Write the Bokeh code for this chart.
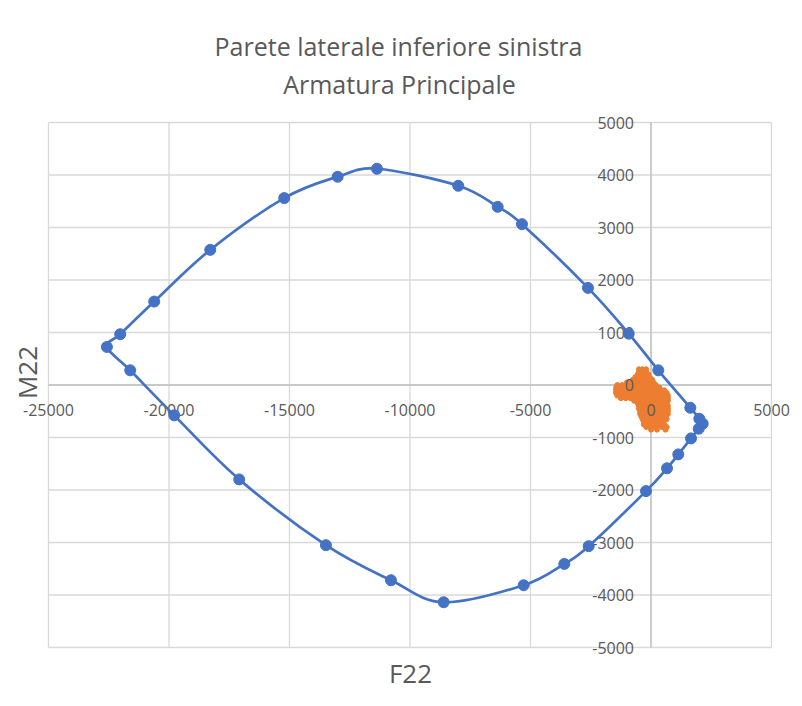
import math
from bokeh.plotting import figure
from bokeh.models import Range1d, Label
from bokeh.core.properties import value
from bokeh.embed import file_html
from bokeh.resources import INLINE

# Blue series (interaction domain), closed loop
f22 = [2145, 2005, 1631, 303, -925, -2615, -5354, -6362, -7997, -11371,
       -13002, -15218, -18289, -20613, -22024, -22576, -21609, -19783, -17086, -13488,
       -10790, -8603, -5283, -3598, -2585, -207, 664, 1133, 1660, 1979]
m22 = [-738, -643, -433, 280, 978, 1850, 3064, 3394, 3795, 4119,
       3967, 3560, 2574, 1589, 967, 725, 280, -578, -1798, -3051,
       -3719, -4138, -3814, -3408, -3070, -2021, -1586, -1322, -1017, -833]

# Orange series (design forces)
orange_f22 = [
    -500, -350, -200,
    -500, -350, -200,
    -550, -400, -250, -100,
    -650, -500, -350, -200, -50,
    -750, -550, -350, -150, 50,
    -1000, -800, -600, -400, -200, 0, 100,
    -1400, -1200, -1000, -800, -600, -400, -200, 0, 200,
    -1450, -1250, -1050, -850, -650, -450, -250, -50, 150, 350,
    -1450, -1250, -1050, -850, -650, -450, -250, -50, 150, 350, 550,
    -1450, -1250, -1050, -850, -650, -450, -250, -50, 150, 350, 550, 650,
    -1400, -1200, -1000, -800, -600, -400, -200, 0, 200, 400, 600, 700,
    -1250, -1050, -850, -650, -450, -250, -50, 150, 350, 550, 700,
    -700, -500, -300, -100, 100, 300, 500, 700,
    -550, -350, -150, 50, 250, 450, 650,
    -500, -300, -100, 100, 300, 500, 700,
    -500, -300, -100, 100, 300, 500, 700,
    -450, -250, -50, 150, 350, 550, 700,
    -450, -250, -50, 150, 350, 550, 700,
    -400, -200, 0, 200, 400, 600,
    -350, -150, 50, 250, 450, 650,
    -300, -100, 100, 300, 500,
    -300, -100, 100, 300, 550,
    -200, 0, 200, 450, 650,
    0, 250, 600,
]
orange_m22 = [
    300, 300, 300,
    250, 250, 250,
    200, 200, 200, 200,
    150, 150, 150, 150, 150,
    100, 100, 100, 100, 100,
    50, 50, 50, 50, 50, 50, 50,
    0, 0, 0, 0, 0, 0, 0, 0, 0,
    -50, -50, -50, -50, -50, -50, -50, -50, -50, -50,
    -100, -100, -100, -100, -100, -100, -100, -100, -100, -100, -100,
    -150, -150, -150, -150, -150, -150, -150, -150, -150, -150, -150, -150,
    -200, -200, -200, -200, -200, -200, -200, -200, -200, -200, -200, -200,
    -250, -250, -250, -250, -250, -250, -250, -250, -250, -250, -250,
    -300, -300, -300, -300, -300, -300, -300, -300,
    -350, -350, -350, -350, -350, -350, -350,
    -400, -400, -400, -400, -400, -400, -400,
    -450, -450, -450, -450, -450, -450, -450,
    -500, -500, -500, -500, -500, -500, -500,
    -550, -550, -550, -550, -550, -550, -550,
    -600, -600, -600, -600, -600, -600,
    -650, -650, -650, -650, -650, -650,
    -700, -700, -700, -700, -700,
    -750, -750, -750, -750, -750,
    -800, -800, -800, -800, -800,
    -850, -850, -850,
]

x_ticks = [-25000, -20000, -15000, -10000, -5000, 0, 5000]
x_tick_labels = ["-25000", "-20000", "-15000", "-10000", "-5000", "0", "5000"]
y_ticks = [-5000, -4000, -3000, -2000, -1000, 0, 1000, 2000, 3000, 4000, 5000]
y_tick_labels = ["-5000", "-4000", "-3000", "-2000", "-1000", "0", "1000", "2000", "3000", "4000", "5000"]

title_line1 = "Parete laterale inferiore sinistra"
title_line2 = "Armatura Principale"
x_title = "F22"
y_title = "M22"

FONT = "Open Sans"
TXT = "#595959"
BLUE = "#4472C4"
ORANGE = "#ED7D31"
GRID = "#d9d9d9"
AXIS = "#bfbfbf"

# canvas and plot-area placement (pixels)
W, H = 800, 700
L, R, T, B = 48, 771, 122, 647

ux = (x_ticks[-1] - x_ticks[0]) / (R - L)
uy = (y_ticks[-1] - y_ticks[0]) / (B - T)
x_range = Range1d(x_ticks[0] - L * ux, x_ticks[-1] + (W - R) * ux)
y_range = Range1d(y_ticks[0] - (H - B) * uy, y_ticks[-1] + T * uy)

p = figure(width=W, height=H, x_range=x_range, y_range=y_range,
           x_axis_type=None, y_axis_type=None, output_backend="svg", toolbar_location=None,
           min_border=0, min_border_left=0, min_border_right=0, min_border_top=0, min_border_bottom=0)
p.outline_line_color = None
p.background_fill_color = "white"
p.border_fill_color = "white"
p.xgrid.visible = False
p.ygrid.visible = False

# gridlines
nx, ny = len(x_ticks), len(y_ticks)
p.segment(x0=x_ticks, y0=[y_ticks[0]] * nx, x1=x_ticks, y1=[y_ticks[-1]] * nx,
          line_color=GRID, line_width=1.3)
p.segment(x0=[x_ticks[0]] * ny, y0=y_ticks, x1=[x_ticks[-1]] * ny, y1=y_ticks,
          line_color=GRID, line_width=1.3)
# axes crossing at zero
p.segment(x0=[0], y0=[y_ticks[0]], x1=[0], y1=[y_ticks[-1]], line_color=AXIS, line_width=1.3)
p.segment(x0=[x_ticks[0]], y0=[0], x1=[x_ticks[-1]], y1=[0], line_color=AXIS, line_width=1.3)

# orange series
p.scatter(orange_f22, orange_m22, size=5, color=ORANGE)

# tick labels
p.text(x=x_ticks, y=[0] * nx, text=x_tick_labels, y_offset=25, text_align="center",
       text_baseline="middle", text_font=value(FONT), text_font_size="16px", text_color=TXT)
p.text(x=[0] * ny, y=y_ticks, text=y_tick_labels, x_offset=-17, text_align="right",
       text_baseline="middle", text_font=value(FONT), text_font_size="16px", text_color=TXT)

# Smooth closed curve (Catmull-Rom -> cubic Bezier) through the blue points
n = len(f22)
x0s, y0s, x1s, y1s, cx0s, cy0s, cx1s, cy1s = [], [], [], [], [], [], [], []
for i in range(n):
    a, b, c, d = (i - 1) % n, i, (i + 1) % n, (i + 2) % n
    x0s.append(f22[b]); y0s.append(m22[b])
    x1s.append(f22[c]); y1s.append(m22[c])
    cx0s.append(f22[b] + (f22[c] - f22[a]) / 6.0)
    cy0s.append(m22[b] + (m22[c] - m22[a]) / 6.0)
    cx1s.append(f22[c] - (f22[d] - f22[b]) / 6.0)
    cy1s.append(m22[c] - (m22[d] - m22[b]) / 6.0)
p.bezier(x0=x0s, y0=y0s, x1=x1s, y1=y1s, cx0=cx0s, cy0=cy0s, cx1=cx1s, cy1=cy1s,
         line_color=BLUE, line_width=2.7)
p.scatter(f22, m22, size=11, color=BLUE)

# titles
def add_label(text, x, y, size, angle=0.0):
    p.add_layout(Label(x=x, y=H - y, x_units="screen", y_units="screen", text=text, angle=angle,
                       text_align="center", text_baseline="middle", text_font=FONT,
                       text_font_size=size, text_color=TXT))

add_label(title_line1, 398, 45, "25px")
add_label(title_line2, 399, 83, "25px")
add_label(x_title, 410, 672, "26px")
add_label(y_title, 26, 372, "26px", angle=math.pi / 2)

open("out.html", "w").write(file_html(p, INLINE))
